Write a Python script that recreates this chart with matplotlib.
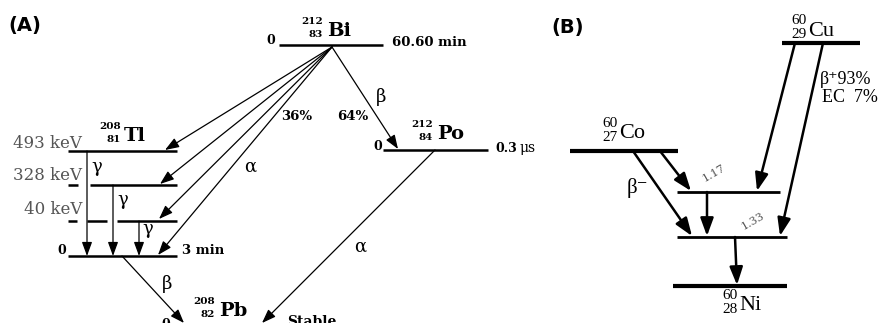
import matplotlib.pyplot as plt

# text values of the two decay schemes
tl_energies = ['493 keV', '328 keV', '40 keV']
half_lives = ['60.60 min', '0.3', '3 min', 'Stable']
bi_branches = ['36%', '64%']
co_gammas = ['1.17', '1.33']
cu_branches = ['\u03b2\u207a93%', 'EC  7%']

SERIF = 'DejaVu Serif'
TIMES = ['Liberation Serif', 'DejaVu Serif']
GRAY = '#555555'

fig = plt.figure(figsize=(8.83, 3.23), dpi=100)
ax = fig.add_axes([0, 0, 1, 1])
ax.set_xlim(0, 883)
ax.set_ylim(323, 0)
ax.axis('off')


def level(x0, x1, y, lw=1.8):
    ax.plot([x0, x1], [y, y], color='black', lw=lw, solid_capstyle='butt')


def arrow(x0, y0, x1, y1, lw=0.9, head=14):
    ax.annotate('', xy=(x1, y1), xytext=(x0, y0),
                arrowprops=dict(arrowstyle='-|>,head_length=0.6,head_width=0.22',
                                color='black', lw=lw, mutation_scale=head,
                                shrinkA=0, shrinkB=0))


def nuclide(x, y, a, z, sym, size, family, weight, nsize, gap=2, sep=13):
    ax.text(x, y - sep * 0.72, a, ha='right', va='center', fontsize=nsize,
            family=family, weight=weight)
    ax.text(x, y + sep * 0.28, z, ha='right', va='center', fontsize=nsize,
            family=family, weight=weight)
    ax.text(x + gap, y, sym, ha='left', va='center', fontsize=size,
            family=family, weight=weight)


# ---------------- panel A ----------------
ax.text(8, 25, '(A)', fontsize=14, weight='bold', va='center', ha='left')

# Bi-212
level(279, 383, 45)
ax.text(275, 41, '0', fontsize=9, family=SERIF, weight='bold', ha='right', va='center')
ax.text(392, 42, half_lives[0], fontsize=9.5, family=SERIF, weight='bold', va='center')
nuclide(323, 31, '212', '83', 'Bi', 14, SERIF, 'bold', 7.5, gap=4)

# Po-212
level(383, 488, 150)
ax.text(382, 146, '0', fontsize=9, family=SERIF, weight='bold', ha='right', va='center')
ax.text(495, 148, half_lives[1], fontsize=9, family=SERIF, weight='bold', va='center')
ax.text(519, 148, '\u03bcs', fontsize=10, family=SERIF, va='center')
nuclide(433, 134, '212', '84', 'Po', 14, SERIF, 'bold', 7.5, gap=4)

# Tl-208 levels
level(68, 177, 151)
level(68, 78, 185)
level(90, 177, 185)
level(68, 77, 221)
level(87, 107, 221)
level(117, 177, 221)
level(68, 177, 256)
nuclide(121, 136, '208', '81', 'Tl', 14, SERIF, 'bold', 7.5, gap=3)
for txt, y in zip(tl_energies, [143, 175, 210]):
    ax.text(82, y, txt, fontsize=12, family=SERIF, color=GRAY, ha='right', va='center')
ax.text(66, 251, '0', fontsize=9, family=SERIF, weight='bold', ha='right', va='center')
ax.text(182, 251, half_lives[2], fontsize=9.5, family=SERIF, weight='bold', va='center')

# gamma cascades inside Tl
arrow(87, 151, 87, 256)
arrow(113, 185, 113, 256)
arrow(139, 221, 139, 256)
for x, y in [(97, 167), (123, 200), (148, 229)]:
    ax.text(x, y, '\u03b3', fontsize=13, family=SERIF, ha='center', va='center')

# alpha branch Bi -> Tl
for x, y in [(165, 150), (160, 184), (159, 219), (158, 255)]:
    arrow(332, 47, x, y)
ax.text(250, 167, '\u03b1', fontsize=13, family=SERIF, ha='center', va='center')
ax.text(297, 116, bi_branches[0], fontsize=9.5, family=SERIF, weight='bold', ha='center', va='center')
ax.text(353, 116, bi_branches[1], fontsize=9.5, family=SERIF, weight='bold', ha='center', va='center')

# beta branch Bi -> Po
arrow(332, 47, 398, 149)
ax.text(381, 97, '\u03b2', fontsize=13, family=SERIF, ha='center', va='center')

# to Pb-208
arrow(122, 256, 184, 323)
ax.text(167, 284, '\u03b2', fontsize=13, family=SERIF, ha='center', va='center')
arrow(435, 150, 262, 323)
ax.text(360, 247, '\u03b1', fontsize=13, family=SERIF, ha='center', va='center')
nuclide(215, 311, '208', '82', 'Pb', 14, SERIF, 'bold', 7.5, gap=4)
ax.text(170, 324, '0', fontsize=9, family=SERIF, weight='bold', ha='right', va='center')
ax.text(287, 315, half_lives[3], fontsize=10, family=SERIF, weight='bold', va='top')

# ---------------- panel B ----------------
ax.text(551, 27, '(B)', fontsize=14, weight='bold', va='center', ha='left')

level(782, 860, 43, lw=3)
nuclide(807, 31, '60', '29', 'Cu', 16, TIMES, 'normal', 11, gap=1, sep=14)
level(570, 678, 151, lw=3)
nuclide(618, 134, '60', '27', 'Co', 16, TIMES, 'normal', 11, gap=1, sep=14)
level(677, 780, 192, lw=2)
level(677, 787, 237, lw=2)
level(673, 787, 286, lw=3)
nuclide(738, 306, '60', '28', 'Ni', 16, TIMES, 'normal', 11, gap=1, sep=14)

ax.text(820, 80, cu_branches[0], fontsize=13, family=TIMES, va='center')
ax.text(822, 97, cu_branches[1], fontsize=13, family=TIMES, va='center')

arrow(795, 43, 757, 191, lw=1.8, head=18)
arrow(823, 43, 780, 236, lw=1.8, head=18)
arrow(633, 151, 692, 236, lw=1.8, head=18)
arrow(660, 151, 691, 191, lw=1.8, head=18)
arrow(707, 192, 707, 236, lw=1.8, head=18)
arrow(735, 237, 737, 285, lw=1.8, head=18)

ax.text(637, 188, '\u03b2\u207b', fontsize=15, family=TIMES, ha='center', va='center')
ax.text(714, 173, co_gammas[0], fontsize=8, family=SERIF, color=GRAY,
        rotation=30, ha='center', va='center')
ax.text(753, 221, co_gammas[1], fontsize=8, family=SERIF, color=GRAY,
        rotation=30, ha='center', va='center')

plt.savefig('out.png', dpi=100)
